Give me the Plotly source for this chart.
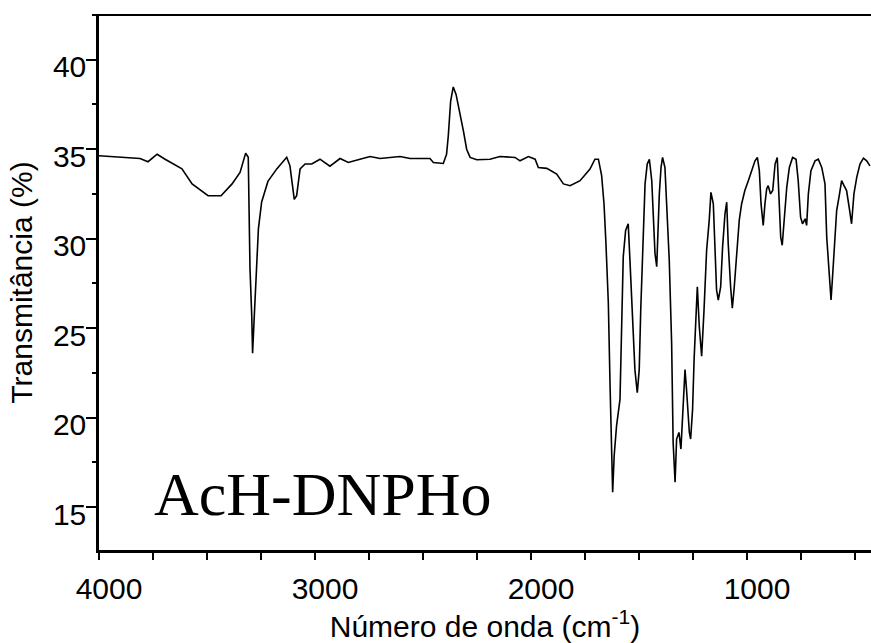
import plotly.graph_objects as go

wavenumber = [4000, 3810, 3773, 3731, 3694, 3616, 3569, 3495, 3435, 3384, 3347, 3321, 3309, 3306,
              3301, 3293, 3289, 3281, 3270, 3262, 3247, 3218, 3177, 3131, 3116, 3096, 3085, 3069,
              3046, 3015, 2977, 2931, 2884, 2846, 2792, 2745, 2699, 2606, 2560, 2468, 2452, 2406,
              2391, 2383, 2372, 2360, 2347, 2329, 2313, 2298, 2282, 2251, 2190, 2144, 2074, 2051,
              2012, 1981, 1966, 1927, 1881, 1850, 1819, 1773, 1727, 1704, 1688, 1673, 1662, 1653,
              1642, 1634, 1627, 1622, 1615, 1604, 1588, 1580, 1573, 1562, 1550, 1542, 1530, 1519,
              1508, 1499, 1492, 1483, 1472, 1462, 1452, 1441, 1434, 1426, 1418, 1414, 1406, 1398,
              1391, 1380, 1372, 1360, 1349, 1342, 1333, 1326, 1315, 1306, 1298, 1287, 1280, 1267,
              1261, 1252, 1245, 1236, 1230, 1221, 1210, 1199, 1187, 1175, 1167, 1156, 1148, 1141,
              1133, 1122, 1113, 1102, 1094, 1087, 1076, 1068, 1059, 1048, 1036, 1025, 1010, 994,
              979, 963, 952, 943, 935, 925, 917, 909, 902, 891, 881, 870, 860, 852, 844, 837, 827,
              816, 804, 789, 773, 763, 752, 743, 731, 724, 716, 704, 685, 670, 654, 639, 631, 619,
              611, 604, 593, 585, 573, 562, 551, 539, 526, 516, 505, 492, 477, 461, 446, 431]

transmittance = [34.63, 34.48, 34.30, 34.72, 34.44, 33.90, 33.06, 32.40, 32.40, 33.06, 33.70, 34.78,
                 34.55, 32.80, 28.33, 25.74, 23.60, 25.70, 28.70, 30.55, 32.05, 33.20, 33.90, 34.55,
                 34.07, 32.20, 32.40, 33.90, 34.17, 34.17, 34.44, 34.05, 34.48, 34.26, 34.44, 34.59,
                 34.48, 34.59, 34.48, 34.48, 34.26, 34.20, 34.72, 35.74, 37.69, 38.48, 38.06, 37.04,
                 36.02, 35.00, 34.54, 34.41, 34.44, 34.59, 34.54, 34.35, 34.59, 34.44, 33.98, 33.93,
                 33.61, 33.06, 32.96, 33.24, 33.89, 34.44, 34.44, 33.52, 31.94, 29.72, 26.39, 21.78,
                 18.06, 15.83, 17.87, 19.54, 21.02, 24.54, 28.98, 30.46, 30.83, 28.80, 25.65, 22.68,
                 21.39, 22.68, 26.02, 29.72, 33.06, 34.17, 34.44, 33.24, 31.20, 29.17, 28.43, 30.09,
                 32.50, 33.98, 34.54, 33.98, 31.94, 28.80, 24.17, 18.61, 16.39, 18.80, 19.17, 18.24,
                 20.09, 22.68, 21.57, 19.17, 18.80, 20.46, 23.24, 26.39, 27.31, 25.09, 23.43, 26.02,
                 29.35, 31.02, 32.59, 31.94, 28.98, 27.13, 26.57, 27.31, 29.54, 31.39, 32.04, 29.72,
                 27.31, 26.11, 27.31, 29.17, 31.02, 31.94, 32.69, 33.24, 33.80, 34.35, 34.54, 33.80,
                 31.94, 30.74, 31.94, 32.78, 32.96, 32.50, 32.69, 34.17, 34.54, 32.13, 30.09, 29.63,
                 31.02, 32.87, 33.98, 34.54, 34.44, 33.24, 31.20, 30.83, 31.11, 30.74, 32.50, 33.80,
                 34.35, 34.44, 33.98, 33.06, 30.09, 27.87, 26.57, 27.87, 29.91, 31.57, 32.41, 33.24,
                 32.96, 32.69, 31.67, 30.83, 32.50, 33.43, 34.17, 34.50, 34.35, 34.07]

x_ticks = [4000, 3000, 2000, 1000]
y_ticks = [15, 20, 25, 30, 35, 40]
sample_label = "AcH-DNPHo"

FONT = "Liberation Sans, Arial, sans-serif"

fig = go.Figure()
fig.add_trace(go.Scatter(x=wavenumber, y=transmittance, mode="lines",
                         line=dict(color="black", width=1.6), showlegend=False,
                         hoverinfo="skip"))

fig.update_layout(
    width=871, height=643,
    margin=dict(l=99, r=0, t=15, b=93),
    plot_bgcolor="white", paper_bgcolor="white",
    font=dict(family=FONT, size=30, color="black"),
)

fig.update_xaxes(
    range=[4000, 426],
    tickvals=x_ticks, ticktext=[str(v) for v in x_ticks],
    ticks="outside", ticklen=7, tickwidth=1.5, tickcolor="black",
    minor=dict(dtick=250, tick0=0, ticks="outside", ticklen=7, tickwidth=1.5, tickcolor="black"),
    showline=True, linecolor="black", linewidth=3,
    showgrid=False, zeroline=False,
    tickfont=dict(family=FONT, size=30),
    ticklabelshift=-10,
    ticklabelstandoff=3,
    title=dict(text="Número de onda (cm<sup>-1</sup>)", font=dict(family=FONT, size=30), standoff=8),
)
fig.update_yaxes(
    range=[12.6, 42.5],
    tickvals=y_ticks, ticktext=[str(v) for v in y_ticks],
    ticks="outside", ticklen=10, tickwidth=1.5, tickcolor="black",
    minor=dict(dtick=2.5, tick0=0, ticks="outside", ticklen=4, tickwidth=1.5, tickcolor="black"),
    showline=True, linecolor="black", linewidth=2.5,
    showgrid=False, zeroline=False,
    tickfont=dict(family=FONT, size=30),
    ticklabelshift=7,
    ticklabelstandoff=-6,
    title=dict(text="Transmitância (%)", font=dict(family=FONT, size=30), standoff=12),
)

fig.add_shape(type="line", xref="paper", yref="paper", x0=-0.008, x1=1, y0=1, y1=1,
              line=dict(color="black", width=2))

fig.add_annotation(text=sample_label, xref="paper", yref="paper",
                   x=(152 - 99) / 772, y=(550 - 494) / 535, xanchor="left", yanchor="middle",
                   showarrow=False,
                   font=dict(family="Liberation Serif, Times New Roman, serif", size=62, color="black"))

fig.write_html("out.html")
